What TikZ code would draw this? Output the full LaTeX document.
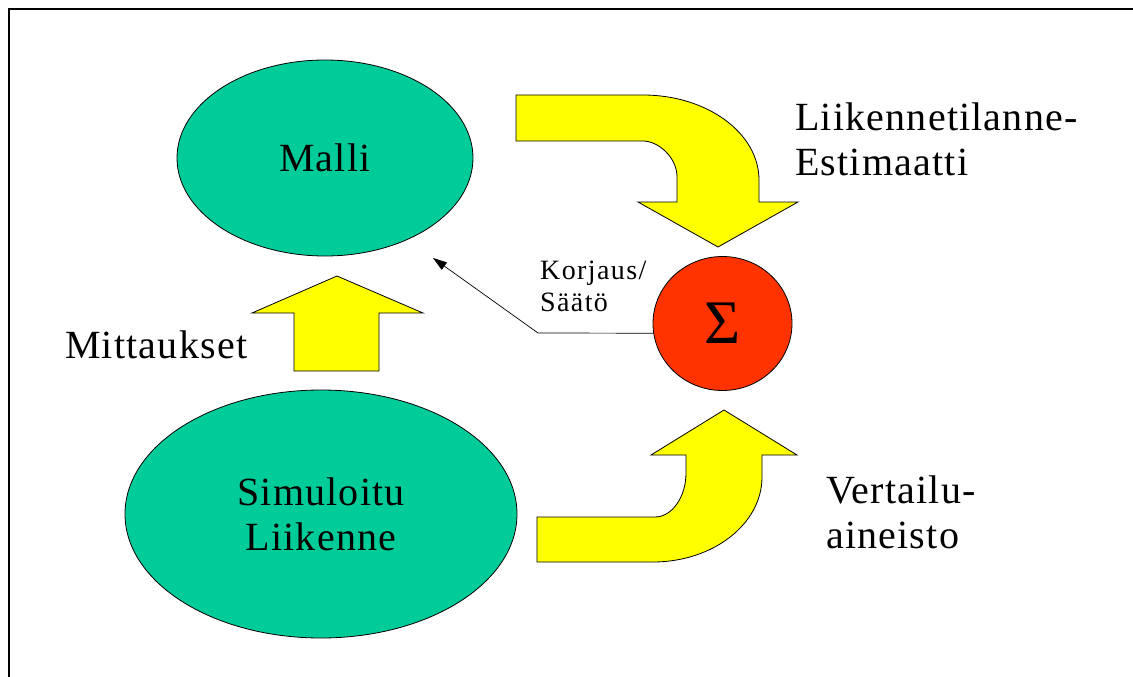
\documentclass[tikz,border=0pt]{standalone}
\usepackage{fontspec}
\setmainfont{Liberation Serif}
\usetikzlibrary{shapes.geometric,arrows.meta}
\newfontfamily\labelfont{Liberation Serif}[LetterSpace=3]
\newfontfamily\notefont{Liberation Serif}[LetterSpace=5]
\definecolor{blobgreen}{RGB}{0,204,153}
\definecolor{arrowyellow}{RGB}{255,255,0}
\definecolor{sumred}{RGB}{255,51,0}

\tikzset{
  blob/.style={ellipse, draw=black, line width=0.8pt, fill=blobgreen,
    inner sep=0pt, align=center, font=\labelfont\fontsize{40}{45}\selectfont},
  sumnode/.style={ellipse, draw=black, line width=0.8pt, fill=sumred,
    inner sep=0pt, font=\fontsize{62}{62}\selectfont},
  bigarrow/.style={draw=black, line width=0.8pt, fill=arrowyellow, line join=miter},
  caption/.style={inner sep=0pt, align=left, anchor=north west,
    font=\labelfont\fontsize{40}{45}\selectfont},
  note/.style={inner sep=0pt, align=left, anchor=north west,
    font=\notefont\fontsize{28}{32}\selectfont},
  feedback/.style={draw=black, line width=0.7pt,
    -{Triangle[length=14pt,width=9pt]}},
  frame/.style={draw=black, line width=2pt}
}

\begin{document}
\begin{tikzpicture}[x=1pt,y=-1pt]
  \useasboundingbox (0,0) rectangle (1133,677);
  \fill[white] (0,0) rectangle (1133,677);

  % frame (top and left edges)
  \draw[frame] (9,677) -- (9,9.5) -- (1133,9.5);

  % model and simulated traffic
  \node[blob, minimum width=296pt, minimum height=196pt] (malli) at (325,158) {Malli};
  \node[blob, minimum width=392pt, minimum height=248pt] (sim) at (321,514) {Simuloitu\\Liikenne};

  % summation node
  \node[sumnode, minimum width=139pt, minimum height=134pt] (sum) at (722.5,323.5) {Σ};

  % measurements arrow (straight, up)
  \draw[bigarrow] (294,371) -- (294,313) -- (252,313) -- (337,276) -- (423,313)
    -- (379,313) -- (379,371) -- cycle;

  % estimate arrow (bent, down into the sum)
  \draw[bigarrow] (516,95) -- (643,95) .. controls (707,95) and (759,133) .. (759,180)
    -- (759,202) -- (798,202) -- (718,247) -- (638,202) -- (677,202) -- (677,177)
    .. controls (677,157) and (658,141) .. (643,141) -- (516,141) -- cycle;

  % reference data arrow (bent, up into the sum)
  \draw[bigarrow] (537,562) -- (653,562) .. controls (713,562) and (762,524) .. (762,477)
    -- (762,455) -- (797,455) -- (724,410) -- (651,455) -- (686,455) -- (686,473)
    .. controls (686,497) and (672,517) .. (655,517) -- (537,517) -- cycle;

  % correction feedback
  \coordinate (bend) at (538,333);
  \coordinate (tip) at (433,258);
  \draw[feedback] (sum.188) -- (bend) -- (tip);

  % labels
  \node[caption] (mitt) at (65,331) {Mittaukset};
  \node[caption] (est) at (795,102.5) {Liikennetilanne-\\Estimaatti};
  \node[caption] (vert) at (826,476) {Vertailu-\\aineisto};
  \node[note] (korj) at (540,261) {Korjaus/\\Säätö};
\end{tikzpicture}
\end{document}
